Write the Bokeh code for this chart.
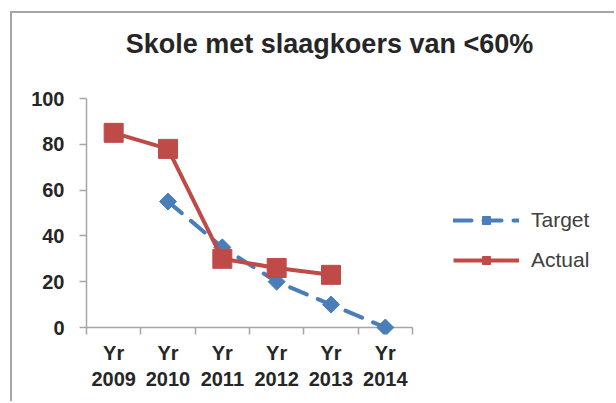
import math
from bokeh.plotting import figure
from bokeh.models import Range1d, FixedTicker, Legend, LegendItem, Label
from bokeh.embed import file_html
from bokeh.resources import INLINE

# ---- data ----
title_text = "Skole met slaagkoers van <60%"
years = [2009, 2010, 2011, 2012, 2013, 2014]
year_labels = ["Yr\n2009", "Yr\n2010", "Yr\n2011", "Yr\n2012", "Yr\n2013", "Yr\n2014"]
target_years = [2010, 2011, 2012, 2013, 2014]
target_values = [55, 35, 20, 10, 0]
actual_years = [2009, 2010, 2011, 2012, 2013]
actual_values = [85, 78, 30, 26, 23]
y_ticks = [0, 20, 40, 60, 80, 100]

BLUE = "#4a7ebb"
RED = "#be4b48"
GRAY = "#a6a6a6"
TXT = "#262626"
FONT = "Liberation Sans"

def xpos(yrs):
    return [years.index(y) + 0.5 for y in yrs]

n = len(years)
W, H = 604, 390
LEFT, BOTTOM = 74, 69
plot_w = 326            # pixel width of the category area
px_per_unit = 229 / 100 # vertical scale
frame_w = W - LEFT
frame_h = H - BOTTOM
y_start = -7 / px_per_unit
y_end = y_start + frame_h / px_per_unit

p = figure(width=W, height=H, output_backend="svg", toolbar_location=None,
           x_range=Range1d(0, n * frame_w / plot_w), y_range=Range1d(y_start, y_end),
           min_border_left=LEFT, min_border_right=0, min_border_top=0, min_border_bottom=BOTTOM,
           margin=(13, 0, 0, 12),
           styles={"box-shadow": "-2px -2px 0px 0px #a6a6a6", "background-color": "white"})
p.outline_line_color = None
p.xgrid.visible = False
p.ygrid.visible = False
p.background_fill_color = None
p.border_fill_color = None

# title as a label
p.add_layout(Label(x=243, y=291, x_units="screen", y_units="screen", text=title_text,
                   text_font=FONT, text_font_size="27px", text_font_style="bold",
                   text_color=TXT, text_align="center", text_baseline="alphabetic"))

# y axis
ya = p.yaxis[0]
ya.ticker = FixedTicker(ticks=y_ticks)
ya.bounds = (0, y_ticks[-1])
ya.axis_line_color = GRAY
ya.axis_line_width = 1.5
ya.major_tick_line_color = GRAY
ya.major_tick_line_width = 1.5
ya.major_tick_out = 7
ya.major_tick_in = 0
ya.minor_tick_line_color = None
ya.major_label_text_font = FONT
ya.major_label_text_font_size = "20px"
ya.major_label_text_font_style = "bold"
ya.major_label_text_color = TXT
ya.major_label_standoff = 15

# x axis: labels at category centres, tick marks at category boundaries
xa = p.xaxis[0]
centres = [i + 0.5 for i in range(n)]
xa.ticker = FixedTicker(ticks=centres, minor_ticks=list(range(n + 1)))
xa.bounds = (0, n)
xa.major_label_overrides = {c: lab for c, lab in zip(centres, year_labels)}
xa.axis_line_color = None
xa.major_tick_line_color = None
xa.major_tick_in = 0
xa.major_tick_out = 0
xa.minor_tick_line_color = GRAY
xa.minor_tick_line_width = 1.5
xa.minor_tick_in = 7
xa.minor_tick_out = 0
xa.major_label_text_font = FONT
xa.major_label_text_font_size = "20px"
xa.major_label_text_font_style = "bold"
xa.major_label_text_color = TXT
xa.major_label_standoff = 7

# category axis line at zero, spanning the categories
p.segment(x0=[0], y0=[0], x1=[n], y1=[0], line_color=GRAY, line_width=1.5)

# series
tx = xpos(target_years)
ax = xpos(actual_years)
tl = p.line(tx, target_values, line_color=BLUE, line_width=4, line_dash="18 12", line_cap="round")
ts = p.scatter(tx, target_values, marker="square", angle=math.pi / 4, size=12,
               fill_color=BLUE, line_color=BLUE)
al = p.line(ax, actual_values, line_color=RED, line_width=4)
asq = p.scatter(ax, actual_values, marker="square", size=19, fill_color=RED, line_color=RED)

legend = Legend(items=[LegendItem(label="Target", renderers=[tl, ts]),
                       LegendItem(label="Actual", renderers=[al, asq])],
                location=(367, 62))
legend.border_line_color = None
legend.background_fill_alpha = 0
legend.padding = 0
legend.margin = 0
legend.spacing = 16
legend.glyph_width = 66
legend.glyph_height = 20
legend.label_height = 20
legend.label_standoff = 12
legend.label_text_font = FONT
legend.label_text_font_size = "21px"
legend.label_text_color = "#404040"
legend.label_text_baseline = "middle"
p.add_layout(legend)

open("out.html", "w").write(file_html(p, INLINE))
